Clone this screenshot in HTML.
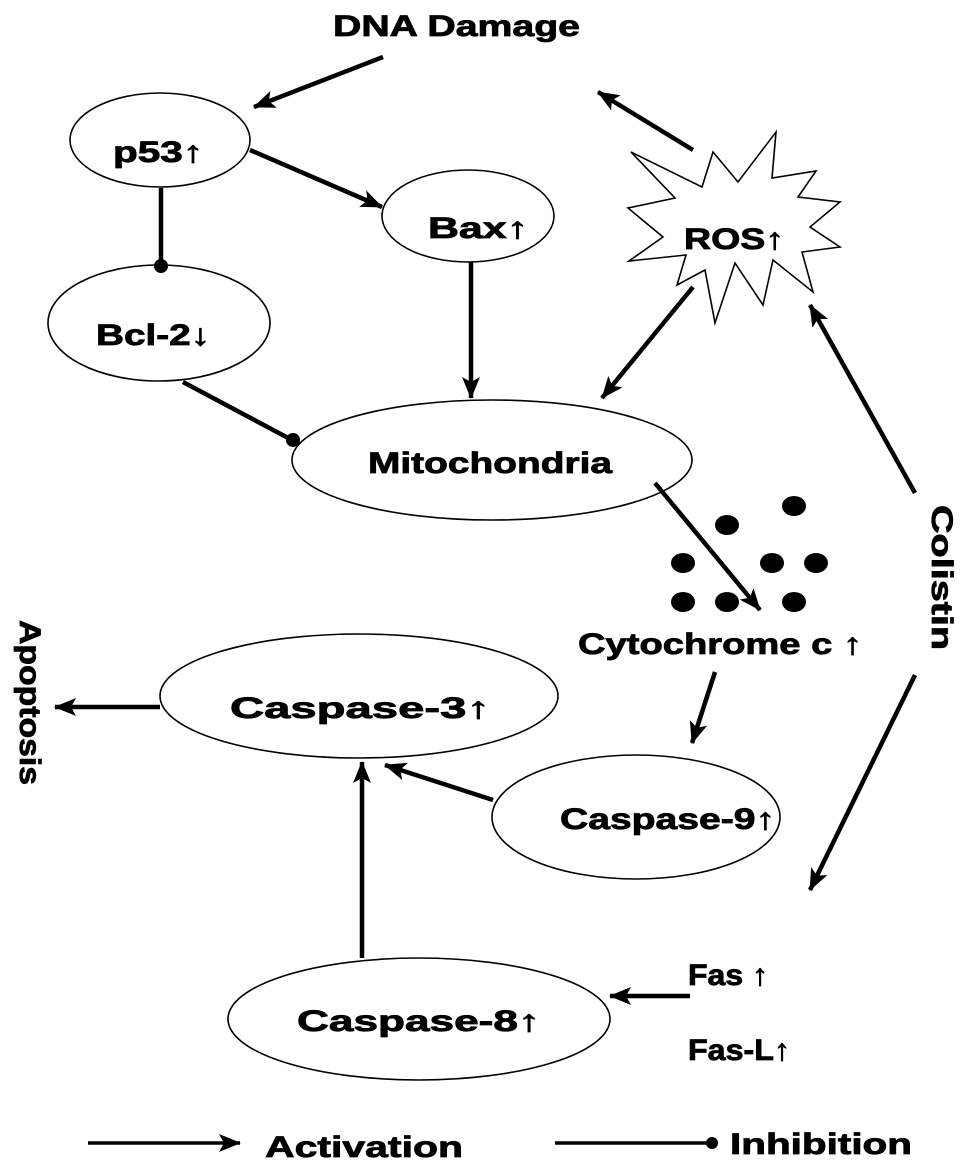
<!DOCTYPE html>
<html><head><style>
html,body{margin:0;padding:0;background:#fff}
svg{display:block}
text{font-family:"Liberation Sans",Arial,sans-serif;font-weight:bold;fill:#000;stroke:#000;stroke-width:0.8}
</style></head><body>
<svg width="969" height="1172" viewBox="0 0 969 1172" xmlns="http://www.w3.org/2000/svg">
<defs>
<marker id="A" markerWidth="22" markerHeight="18" refX="21" refY="9" orient="auto" markerUnits="userSpaceOnUse">
<path d="M0,0 L22,9 L0,18 L5,9 z" fill="#000"/></marker>
</defs>
<g fill="none" stroke="#000" stroke-width="1.6">
<ellipse cx="160" cy="140" rx="90" ry="47"/>
<ellipse cx="159" cy="323" rx="111" ry="58"/>
<ellipse cx="468" cy="216" rx="86" ry="46"/>
<ellipse cx="492" cy="460" rx="200" ry="60"/>
<ellipse cx="359" cy="696" rx="199" ry="62"/>
<ellipse cx="636" cy="817" rx="144" ry="62"/>
<ellipse cx="419" cy="1019" rx="191" ry="61"/>
<polygon points="631,152 702,187 713,152 738,182 776,132 772,178 816,171 798,197 840,202 810,227 840,247 802,252 813,292 773,260 763,305 735,263 715,323 705,270 677,285 686,255 629,261 663,237 628,208 675,198"/>
</g>
<g stroke="#000" stroke-width="4.5" fill="none">
<line x1="383" y1="57" x2="254" y2="107" marker-end="url(#A)"/>
<line x1="693" y1="150" x2="598" y2="92" marker-end="url(#A)"/>
<line x1="250" y1="150" x2="382" y2="207" marker-end="url(#A)"/>
<line x1="161" y1="188" x2="161" y2="266"/>
<line x1="471" y1="262" x2="471" y2="398" marker-end="url(#A)"/>
<line x1="183" y1="382" x2="292" y2="440"/>
<line x1="693" y1="287" x2="602" y2="398" marker-end="url(#A)"/>
<line x1="915" y1="493" x2="810" y2="305" marker-end="url(#A)"/>
<line x1="655" y1="483" x2="760" y2="610" marker-end="url(#A)"/>
<line x1="160" y1="707" x2="55" y2="707" marker-end="url(#A)"/>
<line x1="715" y1="672" x2="692" y2="743" marker-end="url(#A)"/>
<line x1="493" y1="800" x2="385" y2="765" marker-end="url(#A)"/>
<line x1="362" y1="958" x2="362" y2="762" marker-end="url(#A)"/>
<line x1="915" y1="675" x2="810" y2="890" marker-end="url(#A)"/>
<line x1="690" y1="996" x2="610" y2="996" marker-end="url(#A)"/>
<line x1="88" y1="1143" x2="240" y2="1143" stroke-width="3.5" marker-end="url(#A)"/>
<line x1="555" y1="1143" x2="710" y2="1143" stroke-width="3.5"/>
</g>
<g fill="#000">
<circle cx="161" cy="266" r="7"/>
<circle cx="293" cy="440" r="7"/>
<circle cx="712" cy="1143" r="6"/>
<ellipse cx="794" cy="506" rx="12" ry="10"/>
<ellipse cx="727" cy="525" rx="12" ry="10"/>
<ellipse cx="683" cy="563" rx="12" ry="10"/>
<ellipse cx="772" cy="563" rx="12" ry="10"/>
<ellipse cx="816" cy="563" rx="12" ry="10"/>
<ellipse cx="683" cy="602" rx="12" ry="10"/>
<ellipse cx="727" cy="602" rx="12" ry="10"/>
<ellipse cx="794" cy="602" rx="12" ry="10"/>
</g>
<g font-size="30">
<text x="333" y="36" textLength="247" lengthAdjust="spacingAndGlyphs">DNA Damage</text>
<text x="113" y="162" textLength="90" lengthAdjust="spacingAndGlyphs">p53↑</text>
<text x="428" y="238" textLength="100" lengthAdjust="spacingAndGlyphs">Bax↑</text>
<text x="96" y="345" textLength="114" lengthAdjust="spacingAndGlyphs">Bcl-2↓</text>
<text x="368" y="473" textLength="244" lengthAdjust="spacingAndGlyphs">Mitochondria</text>
<text x="684" y="249" textLength="100" lengthAdjust="spacingAndGlyphs">ROS↑</text>
<text x="578" y="654" textLength="284" lengthAdjust="spacingAndGlyphs">Cytochrome c ↑</text>
<text x="230" y="718" textLength="260" lengthAdjust="spacingAndGlyphs">Caspase-3↑</text>
<text x="560" y="829" textLength="215" lengthAdjust="spacingAndGlyphs">Caspase-9↑</text>
<text x="297" y="1031" textLength="243" lengthAdjust="spacingAndGlyphs">Caspase-8↑</text>
<text x="688" y="985" textLength="80" lengthAdjust="spacingAndGlyphs">Fas ↑</text>
<text x="688" y="1060" textLength="102" lengthAdjust="spacingAndGlyphs">Fas-L↑</text>
<text x="265" y="1157" textLength="198" lengthAdjust="spacingAndGlyphs">Activation</text>
<text x="730" y="1154" textLength="182" lengthAdjust="spacingAndGlyphs">Inhibition</text>
<text transform="translate(932,505) rotate(90)" textLength="145" lengthAdjust="spacingAndGlyphs">Colistin</text>
<text transform="translate(20,620) rotate(90)" textLength="165" lengthAdjust="spacingAndGlyphs">Apoptosis</text>
</g>
</svg>
</body></html>
